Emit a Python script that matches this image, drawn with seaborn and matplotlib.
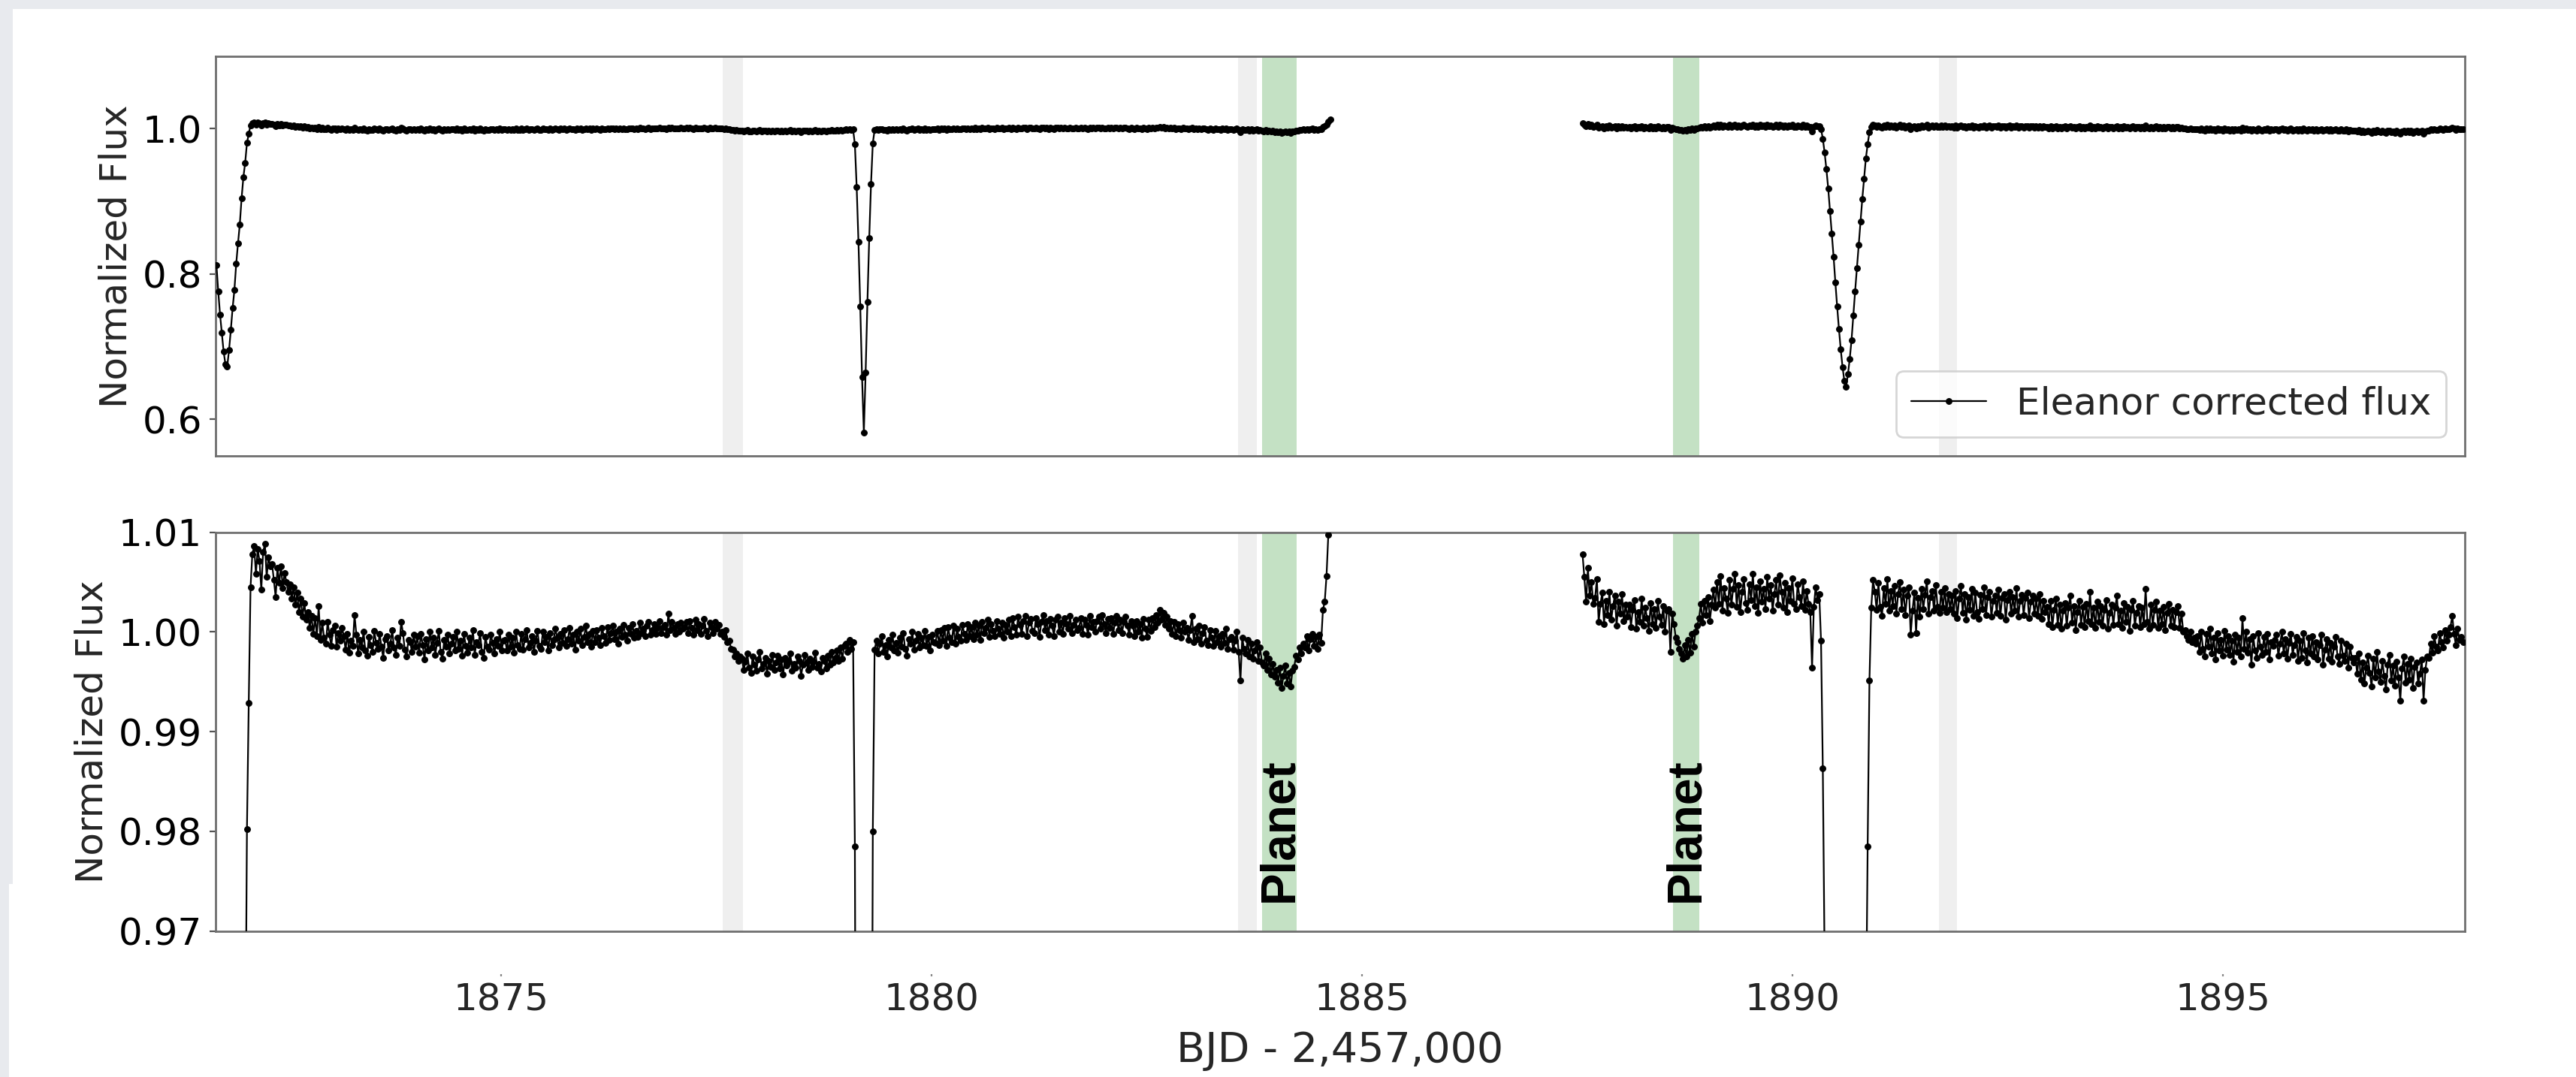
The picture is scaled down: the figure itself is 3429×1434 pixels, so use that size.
import numpy as np
import pandas as pd
import matplotlib
matplotlib.use("Agg")
import matplotlib.pyplot as plt
from matplotlib.patches import Rectangle
import seaborn as sns

# ---------------------------------------------------------------------------
# Light curve: 30-minute cadence, two spacecraft orbits.
# Flux values are offsets from unity in units of 1e-4 (flux = 1 + v * 1e-4).
# ---------------------------------------------------------------------------
CADENCE = 0.0208333          # days
ORBIT1_START = 1871.69       # BJD - 2457000
ORBIT2_START = 1887.56

orbit1_flux = [
    # primary eclipse egress at the start of the orbit
    -1880, -2240, -2560, -2810, -3070, -3240, -3270, -3050, -2770, -2470,
    -2220, -1860, -1580, -1320, -960, -670, -470,
    -198, -71, 45,
    78, 86, 58, 83, 71, 42, 80, 88, 55, 75, 66,
    68, 52, 35, 64, 49, 66, 44, 59, 50, 40,
    48, 33, 45, 27, 39, 20, 33, 15, 29, 12,
    20, 4, 16, -2, 14, -4, 26, -8, 9, -6,
    -12, 10, -3, -14, 2, 6, -15, -1, -9, 4,
    -4, -18, -2, -21, -9, -14, 17, -3, -22, -8,
    -16, 0, -19, -24, -5, -13, -20, 1, -11, -17,
    -2, -15, -26, -7, -4, -19, -12, 2, -16, -23,
    -6, -14, 10, -1, -18, -25, -8, -10, -20, -3,
    -15, -4, -21, -2, -13, -28, -7, -19, 0, -16,
    -6, -23, -11, 1, -20, -27, -8, -15, -3, -22,
    -12, -5, -19, 0, -17, -9, -24, -2, -14, -21,
    -6, -16, 2, -23, -10, -13, -1, -20, -26, -5,
    -15, -18, -3, -11, -22, -7, -14, 0, -19, -9,
    -8, -19, -3, -15, -6, -21, 0, -13, -17, -2,
    -18, -7, 2, -16, -11, -4, -20, -9, 1, -14,
    -17, 0, -10, -5, -19, -1, -13, -8, 3, -6,
    -16, -2, -11, 2, -14, -7, 4, -12, -3, -18,
    0, -9, 3, -13, -5, 6, -10, -2, -15, 1,
    -10, 2, -6, -13, 4, -4, -11, 5, -8, -1,
    6, -7, 0, -12, 3, -5, 7, -3, -9, 4,
    -2, 8, -6, 1, -5, 9, -1, 3, -4, 6,
    10, -3, 2, 8, -2, 4, 11, -1, 5, 7,
    -3, 18, 2, 10, 4, -2, 8, 0, 9, 3,
    5, 10, -1, 11, 4, -3, 12, 2, 8, -2,
    6, 13, 1, -4, 9, 5, -1, 10, 3, 7, -2,
    0, -5, 2, -10, -9, -17, -18, -25, -22, -29, -25,
    -27, -38, -30, -22, -36, -41, -25, -33, -39, -28,
    -20, -37, -32, -26, -42, -29, -35, -23, -38, -31,
    -24, -37, -28, -43, -26, -34, -30, -22, -39, -32,
    -36, -25, -29, -44, -33, -23, -31, -38, -27, -35,
    -30, -21, -36, -32, -40, -26, -29, -37, -24, -33,
    -20, -31, -26, -19, -29, -16, -27, -14,
    -12, -20, -8, -17, -10,
    # secondary eclipse
    -215, -800, -1560, -2450, -3420, -4180, -3350, -2380, -1510, -760, -200,
    -18, -9, -22, -12, -4, -20, -13, -25, -8, -16,
    -3, -19, -11, -21, -6, -15, -1, -17, -24, -7,
    -12, 0, -18, -9, -2, -16, -6, -13, 1, -14,
    -5, -19, -3, -10,
    -11, 1, -13, 2, -9, 4, -14, 5, -6, -10,
    6, -12, 3, -5, -9, 7, -2, -8, 8, -4,
    5, -7, 9, -3, 6, -8, 10, -1, 4, 12,
    -5, 8, 1, -4, 11, 3, -2, 9, -6, 7,
    0, 12, -4, 14, 5, -3, 15, 7, -2, 11,
    16, -4, 9, 13, 1, -1, 14, 8, -5, 10,
    17, 2, 11, -3, 13, 6, -4, 12, 15, 0,
    9, -2, 14, 8, 3, 16, -1, 7, 12, 2,
    4, 14, -2, 12, 7, -3, 16, 5, 10, 0,
    11, 15, 3, 17, 8, -1, 13, 4, 14, -2,
    9, 16, 2, 12, -1, 10, 15, 6, -3, 11,
    6, -4, 11, 0, 8, -6, 13, 3, -5, 12,
    1, 14, 5, 17, 9, 22, 12, 19, 7, 15,
    3, 11, -2, 10, -4, 8, 2, -6, 9, 0,
    4, -8, 2, 16, -10, 3, -7, 6, -12, -1,
    5, -9, -13, 2, -6, -14, 1, -10, -4, -15,
    -2, -11, 3, -17, -7,
    -5, -18, -9, 0, -20, -49, -6, -17, -22, -8,
    -25, -12, -27, -19, -10, -29, -16, -31, -34, -22,
    -38, -27, -43, -32, -45,
    -38, -51, -36, -56, -44, -34, -52, -41, -55, -39,
    -35, -24, -28, -16, -22, -12,
    -16, -4, -19, -7, -2, -14, -5, -17, -3, -11,
    22, 30, 56, 97, 125,
]

orbit2_flux = [
    78,
    55, 30, 64, 36, 50, 28,
    34, 53, 10, 28, 39, 8, 31, 17, 40, 12,
    26, 36, 6, 30, 18, 38, 11, 27, 15,
    27, 5, 22, 32, 3, 20, 10, 33, 6, 24,
    14, 1, 29, 8, 23, 4, 31, 15, 7, 26,
    0, 21,
    23, -20, 18,
    8, -6, -10, -17, -22, -27, -13, -25, -8, -21, -2, -15, 0, 6,
    14, 28, 9, 31, 17, 35, 11, 27,
    42, 24, 50, 28, 56, 21, 44, 33, 19, 52,
    27, 43, 58, 25, 47, 20, 40, 53, 29, 22,
    48, 32, 58, 26, 45, 19, 51, 30, 43, 23,
    55, 33, 47, 21, 38, 52, 27, 57, 40, 24,
    49, 20, 44, 31, 54, 28, 23, 48, 35, 26,
    51, 22, 41,
    28, 20, -36, 25,
    45, 32, 38, -9,
    # primary eclipse
    -137, -330, -560, -820, -1130, -1440, -1760, -2120, -2450, -2760,
    -3040, -3280, -3470, -3550, -3380, -3170, -2910, -2570, -2240, -1920,
    -1600, -1280, -970, -690, -410, -215, -49, 24, 52,
    40, 22, 49, 25, 16, 44, 28, 53, 21, 41,
    26, 46, 18, 38, 50, 23, 42, 17, 36, 45,
    -3, 21, 39, -1, 34, 15, 43, 23, 37, 51,
    18, 35, 41, 21, 47, 25, 19, 40, 24, 44,
    20, 38, 23,
    36, 18, 41, 14, 33, 46, 19, 38, 12, 35,
    22, 43, 16, 39, 20, 13, 37, 23, 45, 17,
    35, 40, 15, 31, 36, 19, 42, 16, 34, 38,
    12, 32, 40, 18, 35, 21, 44, 15, 31, 37,
    17, 34, 39, 14, 30, 36, 18, 33, 16, 38,
    13, 31, 20,
    25, 8, 31, 5, 22, 33, 7, 27, 3, 21,
    29, 6, 24, 36, 9, 26, 2, 20, 31, 7,
    25, 5, 28, 11, 40, 8, 24, 4, 30, 10,
    26, 6, 22, 32, 3, 19, 27, 7, 24, 36,
    8, 21, 4, 29, 10, 25, 1, 22, 31, 6,
    19, 26, 5, 24, 8, 43, 10, 3, 27, 7,
    22, 30, 4, 21, 8, 25, 2, 19, 28, 6,
    22, 5, 20, 26, 4, 18, 0,
    2, -4, -8, 0, -10, -6, -12,
    -4, -20, 0, -17, -25, -2, -15, 3, -22, -6,
    -28, -1, -19, -8, -24, 1, -18, -4, -23, -9,
    -30, -3, -20, -6, -25, 14, -17, 0, -21, -7,
    -33, -4, -19, -26, -1, -15, -23, -5, -20, -2,
    -28, -10, -14,
    -8, -3, -24, -12, 0, -22, -7, -27, -11, -2,
    -23, -13, -5, -29, -9, -26, -1, -19, -31, -6,
    -22, -4, -25, -10, -28, -13, -3, -33, -18, -7,
    -27, -11, -30, -15, -5, -25, -32, -9, -24, -29,
    -12, -36, -15, -26, -31,
    -26, -42, -22, -48, -31, -52, -36, -24, -41, -55,
    -27, -46, -20, -40, -50, -29, -44, -58, -33, -23,
    -49, -34, -54, -30, -46, -69, -37, -25, -51, -32,
    -48, -27, -56, -35, -31, -52, -42, -28, -69, -38,
    -25,
    -26, -12, -21, -4, -15, -19, -1, -10, -16, 2,
    -9, -3, 5, 16, -2, -13, 3, -8, -5, -10,
]

# Shaded windows (BJD - 2457000)
gray_windows = [(1877.57, 1877.81), (1883.56, 1883.78), (1891.70, 1891.91)]
planet_windows = [(1883.84, 1884.24), (1888.61, 1888.92)]
planet_label = "Planet"

x_ticks = [1875, 1880, 1885, 1890, 1895]
x_limits = (1871.68, 1897.81)
top_yticks = [0.6, 0.8, 1.0]
top_ylim = (0.55, 1.10)
bottom_yticks = [0.97, 0.98, 0.99, 1.00, 1.01]
bottom_ylim = (0.97, 1.01)
legend_label = "Eleanor corrected flux"
y_label = "Normalized Flux"
x_label = "BJD - 2,457,000"


def orbit_frame(start, offsets):
    offsets = np.asarray(offsets, dtype=float)
    return pd.DataFrame({
        "time": start + np.arange(offsets.size) * CADENCE,
        "flux": 1.0 + offsets * 1e-4,
    })


orbits = [orbit_frame(ORBIT1_START, orbit1_flux),
          orbit_frame(ORBIT2_START, orbit2_flux)]

# ---------------------------------------------------------------------------
sns.set_style("ticks")
plt.rcParams["font.family"] = ["DejaVu Sans"]

W, H, DPI = 3430, 1434, 200
fig = plt.figure(figsize=(W / DPI, H / DPI), dpi=DPI, facecolor="white")

# light frame strips along the top and left edges
strip = "#e8eaee"
fig.add_artist(Rectangle((0, 1 - 12 / H), 1, 12 / H, transform=fig.transFigure,
                         facecolor=strip, edgecolor="none", zorder=0))
fig.add_artist(Rectangle((0, 1 - 1177 / H), 17 / W, 1177 / H, transform=fig.transFigure,
                         facecolor=strip, edgecolor="none", zorder=0))
fig.add_artist(Rectangle((0, 0), 12 / W, (H - 1177) / H, transform=fig.transFigure,
                         facecolor=strip, edgecolor="none", zorder=0))

left, right = 287 / W, 3281 / W
ax_top = fig.add_axes([left, 1 - 606.8 / H, right - left, (606.8 - 74.5) / H])
ax_bot = fig.add_axes([left, 1 - 1239.5 / H, right - left, (1239.5 - 708.5) / H])

spine_color = "#6f6f6f"
for ax, ylim, yticks, fmt in [(ax_top, top_ylim, top_yticks, "{:.1f}"),
                              (ax_bot, bottom_ylim, bottom_yticks, "{:.2f}")]:
    for lo, hi in gray_windows:
        ax.axvspan(lo, hi, color="gray", alpha=0.12, lw=0, zorder=0)
    for lo, hi in planet_windows:
        ax.axvspan(lo, hi, color="green", alpha=0.23, lw=0, zorder=0)

    for k, df in enumerate(orbits):
        sns.lineplot(data=df, x="time", y="flux", ax=ax, color="black",
                     linewidth=0.8, marker="o", markersize=2.8,
                     markeredgecolor="black", markeredgewidth=0.4,
                     estimator=None, sort=False,
                     label=legend_label if (ax is ax_top and k == 0) else "_nolegend_",
                     legend=False, zorder=3)

    ax.set_xlim(*x_limits)
    ax.set_ylim(*ylim)
    ax.set_yticks(yticks)
    ax.set_yticklabels([fmt.format(v) for v in yticks])
    ax.set_xticks(x_ticks)
    ax.tick_params(axis="x", length=0, labelbottom=False)
    ax.tick_params(axis="y", length=3, width=0.8, color="#555555",
                   pad=3.5, labelsize=18, labelcolor="black")
    ax.set_xlabel("")
    ax.set_ylabel(y_label, fontsize=18)
    for sp in ax.spines.values():
        sp.set_visible(True)
        sp.set_color(spine_color)
        sp.set_linewidth(1.0)

leg = ax_top.legend(loc="lower right", fontsize=18, frameon=True,
                    framealpha=0.8, edgecolor="0.8", handlelength=2.0)

# planet annotations on the zoomed panel
for lo, hi in planet_windows:
    ax_bot.text((lo + hi) / 2, 0.9729, planet_label, rotation=90,
                ha="center", va="bottom", fontsize=23, fontweight="bold",
                family=["Liberation Sans", "DejaVu Sans"], color="black",
                zorder=4)

# shared time axis below the panels
ax_time = fig.add_axes([left, 1 - 1297 / H, right - left, 1e-4], frameon=False)
ax_time.set_xlim(*x_limits)
ax_time.set_xticks(x_ticks)
ax_time.set_xticklabels([str(v) for v in x_ticks])
ax_time.set_yticks([])
ax_time.tick_params(axis="x", length=1.2, width=0.8, color="#888888",
                    pad=2.5, labelsize=18)
ax_time.set_xlabel(x_label, fontsize=20, labelpad=6)
ax_time.patch.set_alpha(0)

fig.savefig("out.png", dpi=DPI, facecolor="white")
